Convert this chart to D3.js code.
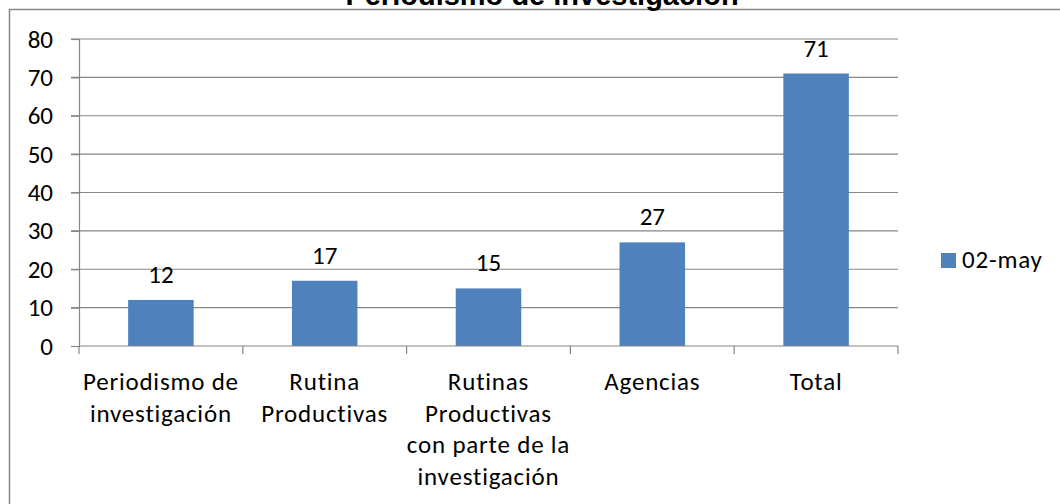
<!DOCTYPE html>
<html>
<head>
<meta charset="utf-8">
<script src="https://cdn.jsdelivr.net/npm/d3@7"></script>
<style>
  body { margin: 0; background: #fff; }
  text { font-family: Carlito, "Open Sans", "Noto Sans", sans-serif; }
</style>
</head>
<body>
<div id="chart"></div>
<script>
"use strict";
(function(){
  const title = "Periodismo de investigación"
  const categories = [
    ["Periodismo de", "investigación"],
    ["Rutina", "Productivas"],
    ["Rutinas", "Productivas", "con parte de la", "investigación"],
    ["Agencias"],
    ["Total"]
  ]
  const values = [12, 17, 15, 27, 71]
  const seriesName = "02-may"
  const yTicks = [0, 10, 20, 30, 40, 50, 60, 70, 80]

  let m = { width: 1060, height: 504 }
  const blue = "#4f81bd"
  const fs = "25px"

  const svg = d3.select("#chart").append("svg")
      .attr("width", m.width)
      .attr("height", m.height)

  // outer chart border
  svg.append("rect")
      .attr("x", 9.5).attr("y", 9.5)
      .attr("width", 1080).attr("height", 520)
      .attr("fill", "none")
      .attr("stroke", "#868686")
      .attr("stroke-width", 1.5)

  svg.append("text")
      .attr("x", 542).attr("y", 5)
      .attr("text-anchor", "middle")
      .attr("font-size", "29px")
      .attr("font-weight", "bold")
      .style("font-family", "'Liberation Sans', Arial, sans-serif")
      .text(title)

  const x = d3.scaleBand()
      .domain(d3.range(categories.length))
      .range([79, 898])
      .paddingInner(0.6)
      .paddingOuter(0.3)
  const band = d3.scaleBand().domain(d3.range(categories.length)).range([79, 898])

  const y = d3.scaleLinear()
      .domain([0, 80])
      .range([346, 39])

  // gridlines
  svg.append("g")
    .selectAll("line")
    .data(yTicks.slice(1))
    .enter().append("line")
      .attr("x1", 71).attr("x2", 898)
      .attr("y1", d => y(d)).attr("y2", d => y(d))
      .attr("stroke", "#868686")
      .attr("stroke-width", 1.2)

  // y axis
  const yAxis = svg.append("g")
      .attr("transform", "translate(79,0)")
      .call(d3.axisLeft(y).tickValues(yTicks).tickSize(8).tickPadding(18))
  yAxis.select(".domain").attr("stroke", "#868686").attr("stroke-width", 1.2)
  yAxis.selectAll(".tick line").attr("stroke", "#868686").attr("stroke-width", 1.2)
  yAxis.selectAll("text")
      .attr("font-size", fs)
      .attr("fill", "#000")
      .style("font-family", "Carlito, 'Open Sans', sans-serif")

  // bars
  svg.append("g")
    .selectAll("rect")
    .data(values)
    .enter().append("rect")
      .attr("x", (d, i) => x(i))
      .attr("width", x.bandwidth())
      .attr("y", d => y(d))
      .attr("height", d => y(0) - y(d))
      .attr("fill", blue)

  // x axis
  svg.append("line")
      .attr("x1", 79).attr("x2", 898)
      .attr("y1", y(0)).attr("y2", y(0))
      .attr("stroke", "#868686").attr("stroke-width", 1.2)
  svg.append("g")
    .selectAll("line")
    .data(d3.range(categories.length + 1))
    .enter().append("line")
      .attr("x1", i => i < categories.length ? band(i) : 898)
      .attr("x2", i => i < categories.length ? band(i) : 898)
      .attr("y1", y(0)).attr("y2", y(0) + 8)
      .attr("stroke", "#868686").attr("stroke-width", 1.2)

  // data labels
  svg.append("g")
    .selectAll("text")
    .data(values)
    .enter().append("text")
      .attr("x", (d, i) => x(i) + x.bandwidth() / 2)
      .attr("y", d => y(d) - 17)
      .attr("text-anchor", "middle")
      .attr("font-size", fs)
      .text(d => d)

  // category labels
  const catG = svg.append("g")
  categories.forEach(function(lines, i){
    const t = catG.append("text")
        .attr("text-anchor", "middle")
        .attr("font-size", fs)
        .attr("letter-spacing", "0.8px")
    lines.forEach(function(line, j){
      t.append("tspan")
        .attr("x", x(i) + x.bandwidth() / 2)
        .attr("y", 390 + j * 31.5)
        .text(line)
    })
  })

  // legend
  svg.append("rect")
      .attr("x", 941).attr("y", 253)
      .attr("width", 15).attr("height", 15)
      .attr("fill", blue)
  svg.append("text")
      .attr("x", 962).attr("y", 268)
      .attr("font-size", fs)
      .attr("letter-spacing", "0.8px")
      .text(seriesName)
})();
</script>
</body>
</html>
